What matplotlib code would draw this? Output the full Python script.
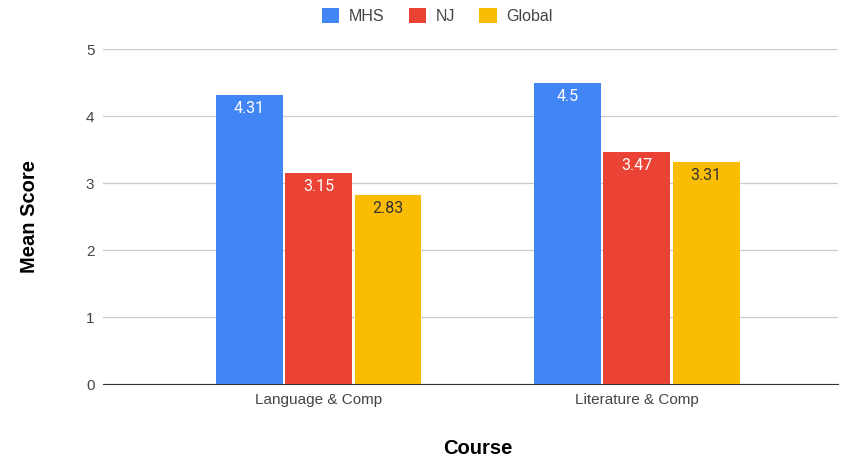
import matplotlib.pyplot as plt
import numpy as np

# dados
cursos = ["Language & Comp", "Literature & Comp"]
series = ["MHS", "NJ", "Global"]
mhs = [4.31, 4.5]
nj = [3.15, 3.47]
glob = [2.83, 3.31]

cores = ["#4285F4", "#EA4335", "#FBBC04"]
cor_texto = ["white", "white", "#333333"]

plt.rcParams["font.family"] = ["Liberation Sans", "DejaVu Sans"]

fig = plt.figure(figsize=(8.56, 4.59), dpi=100)
ax = fig.add_axes([0.120, 0.163, 0.859, 0.730])

x = np.arange(len(cursos))
largura = 0.21
passo = 0.218

for k, (nome, vals) in enumerate(zip(series, [mhs, nj, glob])):
    pos = x + (k - 1) * passo
    barras = ax.bar(pos, vals, largura, color=cores[k], label=nome, zorder=3)
    for b, v in zip(barras, vals):
        ax.text(b.get_x() + b.get_width() / 2, v - 0.09, f"{v:g}",
                ha="center", va="top", color=cor_texto[k], fontsize=11.5,
                family=["Roboto", "DejaVu Sans"], zorder=4)

ax.set_xlim(-0.678, 1.632)
ax.set_ylim(0, 5)
ax.set_yticks(range(6))
ax.set_xticks(x)
ax.set_xticklabels(cursos)
ax.grid(axis="y", color="#cccccc", linewidth=0.9, zorder=0)
for s in ["top", "right", "left"]:
    ax.spines[s].set_visible(False)
ax.spines["bottom"].set_color("#333333")
ax.tick_params(axis="both", length=0, labelsize=11, colors="#444444")
ax.tick_params(axis="y", pad=6)
ax.tick_params(axis="x", pad=6)

ax.set_ylabel("Mean Score", fontsize=14.5, fontweight="bold")
ax.yaxis.set_label_coords(-0.087, 0.5)
ax.set_xlabel("Course", fontsize=14.5, fontweight="bold")
ax.xaxis.set_label_coords(0.51, -0.163)

ax.legend(loc="center", bbox_to_anchor=(0.455, 1.10), ncol=3, frameon=False,
          fontsize=11.5, handlelength=1.1, handleheight=1.1, columnspacing=1.5,
          handletextpad=0.6, labelcolor="#444444")

fig.savefig("out.png", dpi=100)
